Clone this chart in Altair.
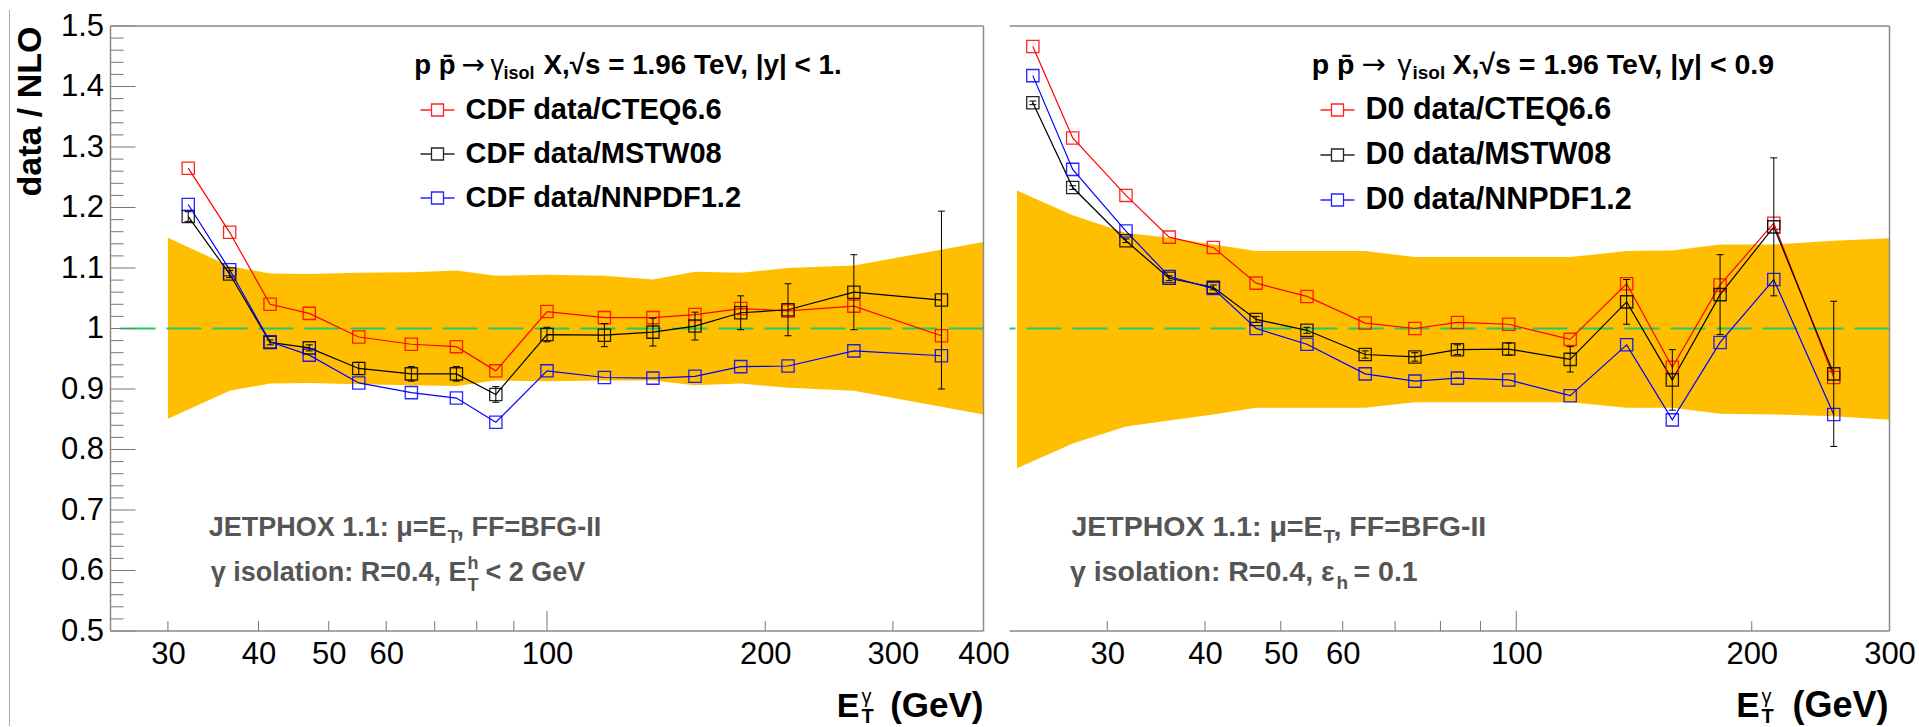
import altair as alt
import pandas as pd

# ---------------- data ----------------
# CDF panel (|y| < 1.)
cdf_names = ["CDF data/CTEQ6.6", "CDF data/MSTW08", "CDF data/NNPDF1.2"]
cdf_et = [32, 36.5, 41.5, 47, 55, 65, 75, 85, 100, 120, 140, 160, 185, 215, 265, 350]
cdf_cteq = [1.265, 1.159, 1.040, 1.025, 0.986, 0.974, 0.970, 0.930, 1.028, 1.018, 1.018, 1.023, 1.033, 1.029, 1.037, 0.988]
cdf_mstw = [1.185, 1.090, 0.977, 0.968, 0.934, 0.925, 0.925, 0.891, 0.990, 0.989, 0.994, 1.004, 1.026, 1.031, 1.060, 1.047]
cdf_nnpdf = [1.205, 1.097, 0.978, 0.956, 0.910, 0.894, 0.885, 0.845, 0.930, 0.919, 0.918, 0.921, 0.937, 0.938, 0.963, 0.955]
cdf_err = [0.008, 0.006, 0.004, 0.005, 0.010, 0.012, 0.012, 0.013, 0.012, 0.019, 0.023, 0.023, 0.028, 0.043, 0.062, 0.147]
cdf_band_et = [30, 36.5, 41.5, 47, 55, 65, 75, 85, 100, 120, 140, 160, 185, 215, 265, 400]
cdf_band_hi = [1.150, 1.103, 1.091, 1.090, 1.092, 1.093, 1.096, 1.087, 1.089, 1.087, 1.081, 1.094, 1.092, 1.100, 1.104, 1.143]
cdf_band_lo = [0.851, 0.897, 0.909, 0.910, 0.908, 0.906, 0.905, 0.914, 0.913, 0.914, 0.914, 0.906, 0.909, 0.902, 0.897, 0.858]

# D0 panel (|y| < 0.9)
d0_names = ["D0 data/CTEQ6.6", "D0 data/MSTW08", "D0 data/NNPDF1.2"]
d0_et = [24.1, 27.1, 31.7, 36.0, 41.0, 46.5, 54.0, 64.1, 74.2, 84.1, 97.8, 117.2, 138.4, 158.3, 182.2, 213.4, 254.6]
d0_cteq = [1.466, 1.315, 1.220, 1.151, 1.134, 1.075, 1.053, 1.009, 1.000, 1.010, 1.007, 0.982, 1.074, 0.936, 1.072, 1.174, 0.919]
d0_mstw = [1.373, 1.233, 1.145, 1.083, 1.068, 1.015, 0.997, 0.957, 0.953, 0.965, 0.966, 0.949, 1.044, 0.915, 1.056, 1.168, 0.925]
d0_nnpdf = [1.418, 1.263, 1.161, 1.086, 1.066, 1.000, 0.974, 0.925, 0.913, 0.918, 0.915, 0.889, 0.973, 0.849, 0.977, 1.081, 0.858]
d0_err = [0.003, 0.003, 0.003, 0.004, 0.004, 0.005, 0.005, 0.006, 0.007, 0.008, 0.010, 0.021, 0.037, 0.050, 0.066, 0.114, 0.120]
d0_band_et = [23.0, 27.1, 31.7, 36.0, 41.0, 46.5, 54.0, 64.1, 74.2, 84.1, 97.8, 117.2, 138.4, 158.3, 182.2, 213.4, 254.6, 300]
d0_band_hi = [1.228, 1.187, 1.158, 1.150, 1.139, 1.128, 1.128, 1.128, 1.118, 1.118, 1.118, 1.118, 1.128, 1.129, 1.139, 1.139, 1.145, 1.149]
d0_band_lo = [0.769, 0.810, 0.838, 0.848, 0.858, 0.869, 0.869, 0.869, 0.878, 0.878, 0.878, 0.878, 0.869, 0.869, 0.859, 0.858, 0.855, 0.849]

# axis ticks / labels
y_labels = [0.5, 0.6, 0.7, 0.8, 0.9, 1.0, 1.1, 1.2, 1.3, 1.4, 1.5]
y_minor = [round(0.5 + 0.02 * i, 2) for i in range(51) if i % 5]
cdf_xlabels = [30, 40, 50, 60, 100, 200, 300, 400]
cdf_xticks = [30, 40, 50, 60, 70, 80, 90, 200, 300]
d0_xlabels = [30, 40, 50, 60, 100, 200, 300]
d0_xticks = [30, 40, 50, 60, 70, 80, 90, 200]
long_xticks = [100]

# ---------------- styling ----------------
FONT = "Liberation Sans"
H = 605
W_L = 873
W_R = 880
LINE_COLORS = ["#ff0000", "#000000", "#0000ff"]
BAND = "#ffbf00"
GREEN = "#22c96a"
FRAME = "#8a8a8a"
TICK = "#777777"
GREY_TXT = "#555555"
LEG_SYMBOL = "M-1,0H-0.353M0.353,0H1M-0.353,-0.353H0.353V0.353H-0.353Z"


def txt(text, x, y, size, color="black", weight="bold", align="left", font=FONT):
    return alt.Chart(alt.Data(values=[{"t": text}])).mark_text(
        align=align, baseline="alphabetic", font=font, fontSize=size,
        fontWeight=weight, color=color
    ).encode(x=alt.value(x), y=alt.value(y), text="t:N")


def prule(x, x2, y, y2, color=FRAME, width=1.5):
    return alt.Chart(alt.Data(values=[{"a": 0}])).mark_rule(
        color=color, strokeWidth=width
    ).encode(x=alt.value(x), x2=alt.value(x2), y=alt.value(y), y2=alt.value(y2))


def panel(names, et, cteq, mstw, nnpdf, err, b_et, b_lo, b_hi, xdomain, width,
          xlabels, xticks, left_axis, texts, frame_left, leg_x, leg_fs):
    xs = alt.Scale(type="log", domain=xdomain, nice=False)
    ys = alt.Scale(domain=[0.5, 1.5], nice=False, zero=False)

    rows = []
    for name, vals in zip(names, [cteq, mstw, nnpdf]):
        for e, v in zip(et, vals):
            rows.append({"et": e, "ratio": v, "series": name})
    sdf = pd.DataFrame(rows)
    bdf = pd.DataFrame({"et": b_et, "lo": b_lo, "hi": b_hi})
    edf = pd.DataFrame({"et": et,
                        "lo": [m - e for m, e in zip(mstw, err)],
                        "hi": [m + e for m, e in zip(mstw, err)]})

    xaxis = alt.Axis(values=xlabels, title=None, ticks=False, tickSize=0, domain=False,
                     grid=False, labelFont=FONT, labelFontSize=31, labelColor="black",
                     labelPadding=8, labelFlush=False, labelOverlap=False, format="d")
    if left_axis:
        yaxis = alt.Axis(values=y_labels,
                         labelExpr="datum.value == 1 ? '1' : format(datum.value, '.1f')",
                         ticks=False, tickSize=0, domain=False, grid=False,
                         labelFont=FONT, labelFontSize=31, labelColor="black",
                         labelPadding=7, labelOverlap=False,
                         title="data / NLO", titleFont=FONT, titleFontSize=34,
                         titleFontWeight="bold", titleColor="black", titleAngle=270,
                         titleAlign="right", titleBaseline="middle", titleX=-80, titleY=0)
    else:
        yaxis = None

    X = lambda f: alt.X(f, scale=xs, axis=xaxis)
    Y = lambda f: alt.Y(f, scale=ys, axis=yaxis)

    band = alt.Chart(bdf).mark_area(color=BAND, opacity=1).encode(
        x=X("et:Q"), y=Y("lo:Q"), y2="hi:Q")
    one = alt.Chart(alt.Data(values=[{"v": 1.0}])).mark_rule(
        color=GREEN, strokeWidth=2, strokeDash=[35, 11]
    ).encode(y=Y("v:Q"))

    legend = alt.Legend(orient="none", legendX=leg_x, legendY=66, title=None,
                        symbolType=LEG_SYMBOL, symbolSize=1156, symbolStrokeWidth=1.3,
                        labelFont=FONT, labelFontSize=leg_fs, labelFontWeight="bold",
                        labelColor="black", labelOffset=10, rowPadding=11, padding=0,
                        labelLimit=600)
    color = alt.Color("series:N", scale=alt.Scale(domain=names, range=LINE_COLORS),
                      legend=legend)
    lines = alt.Chart(sdf).mark_line(strokeWidth=1.2).encode(
        x=X("et:Q"), y=Y("ratio:Q"), color=color)
    pts = alt.Chart(sdf).mark_point(shape="square", filled=False, size=150,
                                    strokeWidth=1.3, opacity=0.85).encode(
        x=X("et:Q"), y=Y("ratio:Q"), color=color)
    ebar = alt.Chart(edf).mark_rule(color="black", strokeWidth=1).encode(
        x=X("et:Q"), y=Y("lo:Q"), y2="hi:Q")
    cap_lo = alt.Chart(edf).mark_point(shape="M-1,0H1", size=49, filled=False,
                                       strokeWidth=1, color="black", opacity=1).encode(
        x=X("et:Q"), y=Y("lo:Q"))
    cap_hi = alt.Chart(edf).mark_point(shape="M-1,0H1", size=49, filled=False,
                                       strokeWidth=1, color="black", opacity=1).encode(
        x=X("et:Q"), y=Y("hi:Q"))

    xt = alt.Chart(pd.DataFrame({"et": xticks})).mark_rule(color=TICK, strokeWidth=1).encode(
        x=X("et:Q"), y=alt.value(H), y2=alt.value(H - 10))
    xt_long = alt.Chart(pd.DataFrame({"et": long_xticks})).mark_rule(color=TICK, strokeWidth=1).encode(
        x=X("et:Q"), y=alt.value(H), y2=alt.value(H - 20))

    layers = [band, one, xt, xt_long]
    if left_axis:
        ymaj = alt.Chart(pd.DataFrame({"lo": y_labels})).mark_rule(color=TICK, strokeWidth=1).encode(
            y=Y("lo:Q"), x=alt.value(0), x2=alt.value(25))
        ymin = alt.Chart(pd.DataFrame({"lo": y_minor})).mark_rule(color=TICK, strokeWidth=1).encode(
            y=Y("lo:Q"), x=alt.value(0), x2=alt.value(13))
        layers += [ymaj, ymin]
    layers += [lines, pts, ebar, cap_lo, cap_hi]

    # frame
    layers += [prule(0, width, 0, 0), prule(width, width, 0, H), prule(0, width, H, H)]
    if frame_left:
        layers += [prule(0, 0, 0, H)]
        layers += [prule(-101, -101, -16, 700, color="#aaaaaa", width=1)]

    for t in texts:
        layers.append(txt(*t))

    return alt.layer(*layers).properties(width=width, height=H)


fsL = 27
fsR = 28.5
ARROW = "DejaVu Sans"
cdf_texts = [
    ("p p\u0304", 345, 48, 27.5, "black", "bold", "right"),
    ("\u2192", 351, 48, 28, "black", "normal", "left", ARROW),
    ("\u03b3", 380, 48, fsL, "black", "normal"),
    ("isol", 393, 53, 18),
    ("X,\u221as = 1.96 TeV, |y| < 1.", 433, 48, 27.8),
    ("JETPHOX 1.1: \u03bc=E", 336, 510, fsL, GREY_TXT, "bold", "right"),
    ("T", 337, 517, 18, GREY_TXT),
    (", FF=BFG-II", 346, 510, fsL, GREY_TXT),
    ("\u03b3 isolation: R=0.4, E", 356, 555, fsL, GREY_TXT, "bold", "right"),
    ("h", 357, 543, 18, GREY_TXT),
    ("T", 357, 565, 18, GREY_TXT),
    ("< 2 GeV", 375, 555, fsL, GREY_TXT),
    ("E", 749, 691, 34, "black", "bold", "right"),
    ("\u03b3", 751, 677, 20, "black", "normal"),
    ("T", 751, 697, 20),
    ("(GeV)", 873, 691, 35, "black", "bold", "right"),
]
d0_texts = [
    ("p p\u0304", 345, 48, fsR, "black", "bold", "right"),
    ("\u2192", 352, 48, 29, "black", "normal", "left", ARROW),
    ("\u03b3", 388, 48, fsR, "black", "normal"),
    ("isol", 403, 53, 19),
    ("X,\u221as = 1.96 TeV, |y| < 0.9", 443, 48, fsR),
    ("JETPHOX 1.1: \u03bc=E", 313, 510, fsR, GREY_TXT, "bold", "right"),
    ("T", 314, 517, 19, GREY_TXT),
    (", FF=BFG-II", 324, 510, fsR, GREY_TXT),
    ("\u03b3 isolation: R=0.4, \u03b5", 325, 555, fsR, GREY_TXT, "bold", "right"),
    ("h", 327, 563, 19, GREY_TXT),
    ("= 0.1", 344, 555, fsR, GREY_TXT),
    ("E", 750, 691, 35, "black", "bold", "right"),
    ("\u03b3", 752, 677, 20, "black", "normal"),
    ("T", 752, 697, 20),
    ("(GeV)", 879, 691, 36, "black", "bold", "right"),
]

left = panel(cdf_names, cdf_et, cdf_cteq, cdf_mstw, cdf_nnpdf, cdf_err,
             cdf_band_et, cdf_band_lo, cdf_band_hi, [25, 400], W_L,
             cdf_xlabels, cdf_xticks, True, cdf_texts, True, 309, 29)
right = panel(d0_names, d0_et, d0_cteq, d0_mstw, d0_nnpdf, d0_err,
              d0_band_et, d0_band_lo, d0_band_hi, [22.5, 300], W_R,
              d0_xlabels, d0_xticks, False, d0_texts, False, 310, 30.5)

chart = alt.hconcat(left, right, spacing=26, bounds="flush").resolve_scale(
    x="independent", y="independent", color="independent"
).resolve_legend(color="independent").properties(
    padding={"left": 8.5, "top": 9, "right": 0, "bottom": 0},
    background="white",
).configure_view(stroke=None)

chart.save("out.html", embed_options={"renderer": "svg", "actions": False})
